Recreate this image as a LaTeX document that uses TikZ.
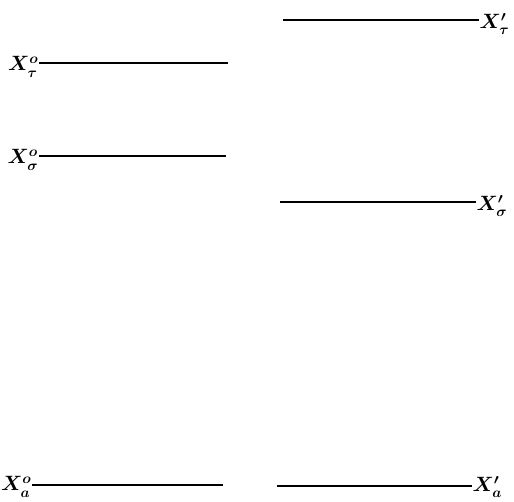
\documentclass[tikz,border=0pt]{standalone}
\usepackage{amsmath}
\usepackage{graphicx}
\newcommand{\biglab}[1]{\scalebox{1.2}{$\boldsymbol{#1}$}}
\begin{document}
\begin{tikzpicture}[x=1pt,y=-1pt,
  level/.style={line width=1.8pt},
  lab/.style={inner sep=0.5pt,font=\LARGE}]
\useasboundingbox (0,0) rectangle (514,501);
% left levels
\node[lab,anchor=east] (Lt) at (39,67) {\biglab{X^{o}_{\tau}}};
\coordinate (Lte) at (228,63);
\draw[level] (Lt.east |- Lte) -- (Lte);
\node[lab,anchor=east] (Ls) at (39,160) {\biglab{X^{o}_{\sigma}}};
\coordinate (Lse) at (226,156);
\draw[level] (Ls.east |- Lse) -- (Lse);
\node[lab,anchor=east] (La) at (32,487) {\biglab{X^{o}_{a}}};
\coordinate (Lae) at (223,485);
\draw[level] (La.east |- Lae) -- (Lae);
% right levels
\node[lab,anchor=west] (Rt) at (479,24) {\biglab{X'_{\tau}}};
\coordinate (Rts) at (283,20);
\draw[level] (Rts) -- (Rt.west |- Rts);
\node[lab,anchor=west] (Rs) at (476,206) {\biglab{X'_{\sigma}}};
\coordinate (Rss) at (280,202);
\draw[level] (Rss) -- (Rs.west |- Rss);
\node[lab,anchor=west] (Ra) at (472,487) {\biglab{X'_{a}}};
\coordinate (Ras) at (277,486);
\draw[level] (Ras) -- (Ra.west |- Ras);
\end{tikzpicture}
\end{document}
